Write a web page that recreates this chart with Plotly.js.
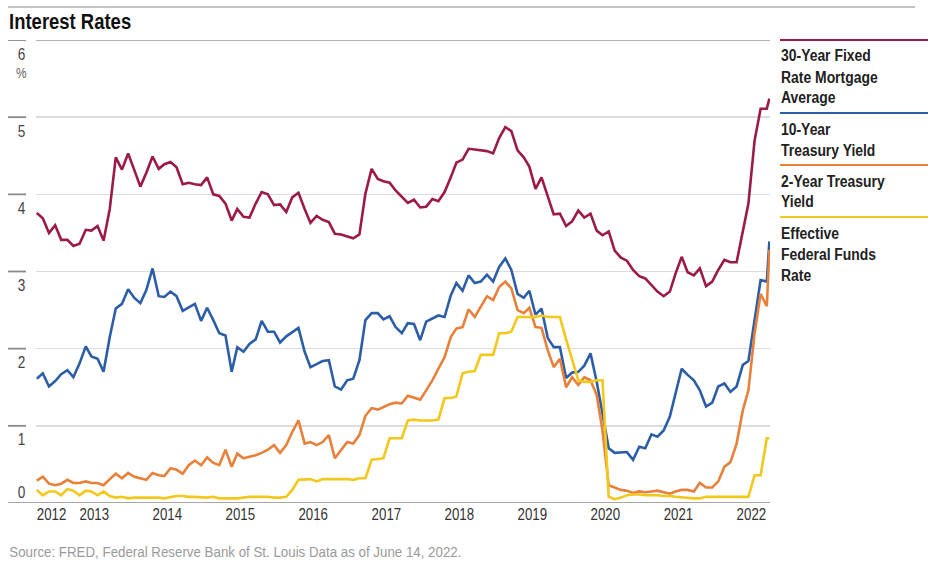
<!DOCTYPE html>
<html>
<head>
<meta charset="utf-8">
<script src="https://cdn.plot.ly/plotly-3.0.1.min.js"></script>
<style>html,body{margin:0;padding:0;background:#fff;}#chart{width:935px;height:565px;}</style>
</head>
<body>
<div id="chart"></div>
<script>
// ---- Data (monthly readings, first of month, June 2012 - June 2022, plus June 14, 2022) ----
const startYear = 2012, startMonth = 6;
const lastDate = '2022-06-14';

const mortgage30 = [3.76,3.69,3.50,3.60,3.41,3.41,3.33,3.36,3.54,3.53,3.59,3.40,
  3.81,4.48,4.32,4.53,4.32,4.10,4.28,4.49,4.33,4.39,4.42,4.35,
  4.13,4.15,4.13,4.12,4.22,4.00,3.98,3.88,3.66,3.81,3.71,3.70,
  3.88,4.03,4.00,3.86,3.87,3.77,3.96,4.02,3.81,3.63,3.72,3.67,
  3.64,3.49,3.48,3.45,3.43,3.48,4.01,4.33,4.20,4.17,4.15,4.05,
  3.97,3.89,3.93,3.83,3.84,3.94,3.91,4.03,4.22,4.41,4.45,4.59,
  4.58,4.57,4.56,4.53,4.73,4.87,4.82,4.57,4.48,4.36,4.07,4.22,
  3.99,3.74,3.75,3.59,3.65,3.79,3.70,3.75,3.53,3.47,3.52,3.27,
  3.18,3.14,3.02,2.94,2.91,2.82,2.74,2.68,2.74,2.97,3.19,2.99,
  2.95,3.04,2.81,2.87,3.02,3.15,3.12,3.12,3.53,3.88,4.70,5.11,
  5.11,5.24];

const treasury10 = [1.61,1.68,1.51,1.58,1.67,1.72,1.63,1.81,2.03,1.90,1.87,1.70,
  2.15,2.52,2.58,2.77,2.66,2.59,2.76,3.04,2.68,2.67,2.74,2.68,
  2.49,2.53,2.58,2.36,2.53,2.37,2.20,2.17,1.70,2.02,1.96,2.06,
  2.12,2.36,2.22,2.22,2.08,2.16,2.22,2.27,1.96,1.76,1.80,1.84,
  1.85,1.51,1.47,1.59,1.61,1.85,2.37,2.46,2.46,2.38,2.42,2.28,
  2.20,2.33,2.32,2.11,2.35,2.39,2.43,2.41,2.69,2.85,2.75,2.95,
  2.85,2.87,2.96,2.87,3.06,3.17,3.02,2.71,2.66,2.75,2.44,2.52,
  2.14,2.02,2.02,1.62,1.69,1.70,1.78,1.94,1.57,1.16,0.71,0.65,
  0.66,0.66,0.56,0.73,0.71,0.89,0.86,0.94,1.12,1.42,1.74,1.66,
  1.59,1.46,1.25,1.30,1.51,1.55,1.44,1.51,1.79,1.84,2.35,2.89,
  2.87,3.39];

const treasury2 = [0.29,0.34,0.25,0.23,0.25,0.30,0.26,0.26,0.28,0.26,0.26,0.23,
  0.31,0.38,0.32,0.39,0.34,0.32,0.30,0.39,0.36,0.35,0.45,0.43,
  0.38,0.49,0.55,0.49,0.59,0.52,0.49,0.69,0.47,0.64,0.58,0.60,
  0.62,0.65,0.69,0.75,0.65,0.75,0.92,1.07,0.77,0.79,0.75,0.79,
  0.88,0.58,0.69,0.79,0.77,0.88,1.13,1.23,1.21,1.24,1.28,1.30,
  1.29,1.39,1.36,1.34,1.46,1.59,1.74,1.89,2.15,2.26,2.28,2.51,
  2.41,2.54,2.68,2.63,2.80,2.87,2.78,2.50,2.46,2.53,2.28,2.27,
  1.98,1.76,1.87,1.50,1.63,1.53,1.63,1.59,1.40,0.94,0.23,0.20,
  0.17,0.16,0.13,0.15,0.14,0.15,0.16,0.14,0.12,0.15,0.17,0.17,
  0.15,0.26,0.20,0.20,0.28,0.47,0.53,0.77,1.20,1.46,2.20,2.71,
  2.55,3.28];

const fedFunds = [0.17,0.10,0.15,0.15,0.10,0.18,0.16,0.10,0.16,0.15,0.10,0.15,
  0.09,0.07,0.08,0.06,0.07,0.07,0.07,0.07,0.07,0.06,0.08,0.09,
  0.09,0.08,0.08,0.07,0.07,0.08,0.06,0.06,0.06,0.06,0.07,0.08,
  0.08,0.08,0.08,0.07,0.07,0.08,0.17,0.30,0.31,0.31,0.28,0.31,
  0.31,0.31,0.31,0.31,0.30,0.32,0.32,0.56,0.57,0.58,0.84,0.84,
  0.84,1.07,1.08,1.07,1.07,1.07,1.08,1.36,1.36,1.38,1.68,1.70,
  1.71,1.92,1.92,1.92,2.20,2.20,2.22,2.41,2.41,2.41,2.41,2.43,
  2.41,2.41,2.41,2.12,1.85,1.59,1.57,1.57,1.59,1.59,0.08,0.05,
  0.07,0.10,0.11,0.11,0.10,0.10,0.10,0.09,0.09,0.08,0.07,0.07,
  0.06,0.06,0.08,0.08,0.08,0.08,0.08,0.08,0.08,0.08,0.36,0.36,
  0.84,0.84];

const yearLabels = ['2012','2013','2014','2015','2016','2017','2018','2019','2020','2021','2022'];
const yValues = [0,1,2,3,4,5,6];

const seriesNames = ['30-Year Fixed Rate Mortgage Average','10-Year Treasury Yield','2-Year Treasury Yield','Effective Federal Funds Rate'];
const legendLines = [['30-Year Fixed','Rate Mortgage','Average'],['10-Year','Treasury Yield'],['2-Year Treasury','Yield'],['Effective','Federal Funds','Rate']];
const colors = ['#9c1a4a','#2c5ea8','#e9803a','#f3c81d'];

// ---- Dates ----
function pad(n){return (n<10?'0':'')+n;}
const dates = [];
for (let i=0;i<mortgage30.length-1;i++){
  const m = startMonth-1+i;
  dates.push((startYear+Math.floor(m/12))+'-'+pad(m%12+1)+'-01');
}
dates.push(lastDate);

// ---- Layout geometry (pixels) ----
const W=935,H=565,L=36,R=770,T=40,B=503;
const px = x => (x-L)/(R-L);
const py = y => (B-y)/(B-T);

const FONT = '"Liberation Sans", Arial, sans-serif';

const allSeries=[mortgage30,treasury10,treasury2,fedFunds];
const traces = allSeries.map((s,k)=>({
  type:'scatter', mode:'lines', x:dates, y:s, name:seriesNames[k],
  line:{color:colors[k], width:2.6, shape:'linear'}, hoverinfo:'skip', showlegend:false
}));

const tickvals = yearLabels.map((y,i)=> i===0 ? dates[0] : y+'-01-01');

const shapes=[];
const annotations=[];
const annScale=[];   // horizontal condensing factor for each annotation
function addAnn(a,s){annotations.push(a);annScale.push(s);}

// top rule
shapes.push({type:'line',xref:'paper',yref:'paper',x0:px(8),x1:px(915),y0:py(7),y1:py(7),line:{color:'#8a8a8a',width:1.2}});
// axis baseline
shapes.push({type:'line',xref:'paper',yref:'y',x0:px(8),x1:1,y0:0,y1:0,line:{color:'#8a8a8a',width:1.5}});
// top gridline (darker)
shapes.push({type:'line',xref:'paper',yref:'y',x0:0,x1:1,y0:6,y1:6,line:{color:'#9a9a9a',width:1.5}});
// left dashes and labels
yValues.forEach(v=>{
  if(v>0) shapes.push({type:'line',xref:'paper',yref:'y',x0:px(8),x1:px(26),y0:v,y1:v,line:{color:'#8a8a8a',width:1.8}});
  addAnn({xref:'paper',yref:'y',x:px(21),y:v,yshift: v===0?11:-14,text:String(v),showarrow:false,xanchor:'center',yanchor:'middle',font:{family:FONT,size:16,color:'#444'}},0.85);
});
addAnn({xref:'paper',yref:'y',x:px(21),y:6,yshift:-33,text:'%',showarrow:false,xanchor:'center',yanchor:'middle',font:{family:FONT,size:14,color:'#666'}},0.85);

// title and source
addAnn({xref:'paper',yref:'paper',x:px(7),y:py(22),text:'<b>Interest Rates</b>',showarrow:false,xanchor:'left',yanchor:'middle',font:{family:FONT,size:22,color:'#111'}},0.84);
addAnn({xref:'paper',yref:'paper',x:px(7),y:py(551),text:'Source: FRED, Federal Reserve Bank of St. Louis Data as of June 14, 2022.',showarrow:false,xanchor:'left',yanchor:'middle',font:{family:FONT,size:15.5,color:'#9a9a9a'}},0.86);

// custom legend
const legendTop=[40,113,165,217];
legendLines.forEach((lines,k)=>{
  shapes.push({type:'line',xref:'paper',yref:'paper',x0:px(780),x1:px(928),y0:py(legendTop[k]),y1:py(legendTop[k]),line:{color:colors[k],width:2.2}});
  lines.forEach((t,j)=>{
    addAnn({xref:'paper',yref:'paper',x:px(779),y:py(legendTop[k]+16+j*21),text:'<b>'+t+'</b>',showarrow:false,xanchor:'left',yanchor:'middle',font:{family:FONT,size:16,color:'#222'}},0.87);
  });
});

const layout={
  width:W,height:H,
  margin:{l:L,r:W-R,t:T,b:H-B,pad:0},
  paper_bgcolor:'#fff',plot_bgcolor:'#fff',
  showlegend:false,
  xaxis:{type:'date',range:['2012-05-28','2022-06-17'],showgrid:false,zeroline:false,showline:false,
    tickmode:'array',tickvals:tickvals,ticktext:yearLabels,ticks:'',ticklabelposition:'outside right',
    tickangle:0,tickfont:{family:FONT,size:16,color:'#333'},fixedrange:true},
  yaxis:{range:[0,6],tickmode:'array',tickvals:[1,2,3,4,5],showticklabels:false,showgrid:true,
    gridcolor:'#dcdcdc',gridwidth:1.5,zeroline:false,showline:false,ticks:'',fixedrange:true},
  shapes:shapes,annotations:annotations
};

// condense text horizontally (the original uses a condensed typeface)
function condense(t,s,anchor){
  const bb=t.getBBox();
  const ax = anchor==='center' ? bb.x+bb.width/2 : bb.x;
  const prev=t.getAttribute('transform')||'';
  t.setAttribute('transform',prev+' translate('+ax+',0) scale('+s+',1) translate('+(-ax)+',0)');
}
Plotly.newPlot('chart',traces,layout,{displayModeBar:false,staticPlot:true}).then(gd=>{
  gd.querySelectorAll('g.annotation').forEach(g=>{
    const idx=+g.getAttribute('data-index');
    const t=g.querySelector('text.annotation-text');
    if(t && annotations[idx]) condense(t,annScale[idx],annotations[idx].xanchor);
  });
  gd.querySelectorAll('.xtick text').forEach(t=>condense(t,0.83,'left'));
});
</script>
</body>
</html>
